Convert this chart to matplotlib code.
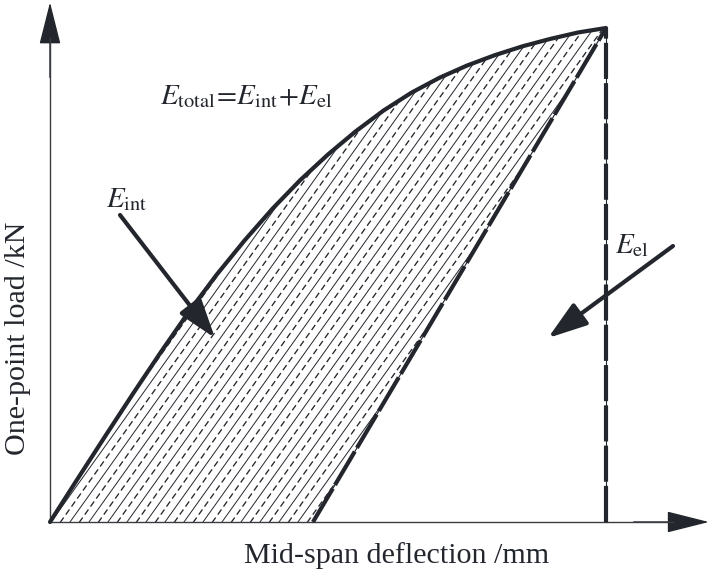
import numpy as np
import matplotlib
matplotlib.use('Agg')
import matplotlib.pyplot as plt
from matplotlib.patches import Polygon, FancyArrowPatch

plt.rcParams['font.family'] = ['Liberation Serif', 'DejaVu Serif']
plt.rcParams['mathtext.fontset'] = 'stix'
plt.rcParams['lines.scale_dashes'] = False

# loading curve (normalised deflection, normalised load)
defl = [0.0, 0.05, 0.10, 0.15, 0.20, 0.25, 0.30, 0.35, 0.40, 0.45, 0.50,
        0.55, 0.60, 0.65, 0.70, 0.75, 0.80, 0.85, 0.90, 0.95, 1.0]
load = [0.0, 0.088, 0.175, 0.261, 0.345, 0.426, 0.501, 0.570, 0.634, 0.692, 0.744,
        0.791, 0.833, 0.869, 0.899, 0.924, 0.945, 0.963, 0.978, 0.991, 1.0]
# residual deflection after unloading
resid = 0.473
peak_x, peak_y = defl[-1], load[-1]

xlabel = 'Mid-span deflection /mm'
ylabel = 'One-point load /kN'

ink = '#23272d'

fig = plt.figure(figsize=(7.09, 5.69), dpi=100)
ax = fig.add_axes([0, 0, 1, 1])
# origin at pixel (50, 522), peak at pixel (606, 28)
ax.set_xlim(-50 / 556, 659 / 556)
ax.set_ylim(-47 / 494, 522 / 494)
ax.axis('off')

# hatched region between loading and unloading paths
verts = list(zip(defl, load)) + [(resid, 0.0)]
region = Polygon(verts, closed=True, facecolor='none', edgecolor='none')
ax.add_patch(region)

slope = 1.4 * 556 / 494
step = 9.5 / 556
for i, x0 in enumerate(np.arange(-0.75, 0.55, step)):
    yy = np.array([-0.05, 1.05])
    xx = x0 + yy / slope
    if i % 2 == 0:
        ln, = ax.plot(xx, yy, color=ink, lw=0.7)
    else:
        ln, = ax.plot(xx, yy, color=ink, lw=0.95, linestyle=(0, (4.5, 2.6)))
    ln.set_clip_path(region)

# axes with arrow heads
ax.plot([0, 0], [0, 0.98], color='#3a3d42', lw=1.0)
ax.plot([0, 1.12], [0, 0], color='#3a3d42', lw=1.0)
for tail, tip in [((0, 0.9), (0, 1.052)), ((1.05, 0), (1.185, 0))]:
    ax.add_patch(FancyArrowPatch(tail, tip, arrowstyle='-|>,head_length=27,head_width=6.8',
                                 mutation_scale=1, color=ink, lw=1.0, shrinkA=0, shrinkB=0))

# loading curve
ax.plot(defl, load, color=ink, lw=3.0, solid_capstyle='round', solid_joinstyle='round')

# unloading line and vertical line at peak
ax.plot([resid, peak_x], [0, peak_y], color=ink, lw=0.8)
ax.plot([resid, peak_x], [0, peak_y], color=ink, lw=3.0, linestyle=(0, (28, 3)))
ax.plot([peak_x, peak_x], [0, peak_y], color=ink, lw=0.8)
ax.plot([peak_x, peak_x], [0, peak_y], color=ink, lw=3.0, linestyle=(0, (26, 3)))

# annotations
def px(x, y):
    return ((x - 50) / 556, (522 - y) / 494)

ax.text(*px(160, 104), r'$E_{\mathrm{total}}\!=\!E_{\mathrm{int}}\!+\!E_{\mathrm{el}}$',
        fontsize=21, color=ink, ha='left', va='baseline')
ax.text(*px(106, 207), r'$E_{\mathrm{int}}$', fontsize=21, color=ink, ha='left', va='baseline')
ax.text(*px(615, 253), r'$E_{\mathrm{el}}$', fontsize=21, color=ink, ha='left', va='baseline')

for tail, tip in [(px(120, 215), px(215, 338)), (px(673, 246), px(548, 338))]:
    ax.add_patch(FancyArrowPatch(tail, tip, arrowstyle='-|>,head_length=24,head_width=8',
                                 mutation_scale=1, color=ink, lw=3.0, shrinkA=0, shrinkB=0))

ax.text(*px(397, 563), xlabel, fontsize=21.6, color=ink, ha='center', va='baseline')
ax.text(*px(18, 338), ylabel, fontsize=21.6, color=ink, ha='center', va='center', rotation=90)

fig.savefig('out.png', dpi=100)
